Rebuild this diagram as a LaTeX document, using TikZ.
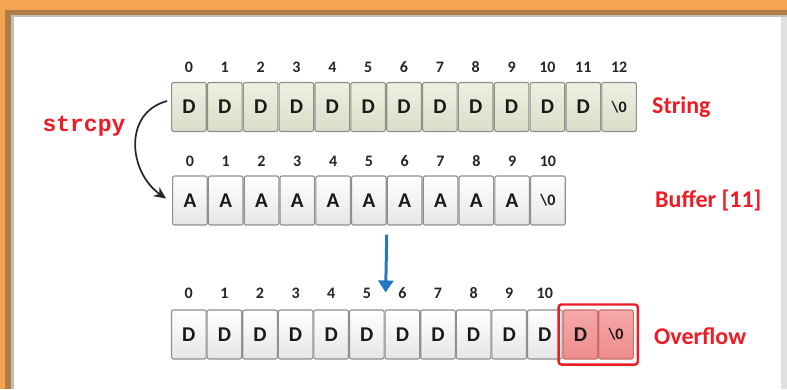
\documentclass[tikz,border=0pt]{standalone}
\usepackage{fontspec}
\setmainfont{Carlito}
\newfontfamily\monof{Liberation Mono}
\usetikzlibrary{arrows.meta,fit}
\definecolor{bgorange}{HTML}{F4A552}
\definecolor{bgbrown}{HTML}{B27C45}
\definecolor{txtred}{HTML}{EE1C25}
\definecolor{arrblue}{HTML}{2378C0}
\definecolor{celledge}{HTML}{8F908A}
\definecolor{aTop}{HTML}{EEF0E2}
\definecolor{aBot}{HTML}{DADDC8}
\definecolor{cTop}{HTML}{F6A8A8}
\definecolor{cBot}{HTML}{EE8C8C}
\definecolor{cEdge}{HTML}{C86E6E}
\tikzset{
  cellbase/.style={rectangle, rounded corners=2pt, minimum width=34.6pt, minimum height=49pt, inner sep=0pt, draw=celledge, line width=1.1pt, font=\fontsize{21}{21}\selectfont\bfseries, text=black!90},
  cellA/.style={cellbase, top color=aTop, bottom color=aBot},
  cellB/.style={cellbase, top color=white, bottom color=black!10},
  cellC/.style={cellbase, top color=cTop, bottom color=cBot, draw=cEdge},
  idx/.style={font=\fontsize{16}{16}\selectfont\bfseries, text=black!85, inner sep=0pt},
  lbl/.style={font=\fontsize{24}{24}\selectfont\bfseries, text=txtred, anchor=west, inner sep=0pt},
  nul/.style={font=\fontsize{16}{16}\selectfont\bfseries}
}
\begin{document}
\begin{tikzpicture}[x=1pt,y=-1pt]
\useasboundingbox (0,0) rectangle (787,389);
% background frame
\fill[bgorange] (0,0) rectangle (787,389);
\fill[bgbrown] (5,10) rectangle (787,389);
\fill[black!25] (11,15) rectangle (787,389);
\fill[white] (14,17) rectangle (781,389);
\fill[black!12] (781,17) rectangle (787,389);
% row 1 (String)
\foreach \i in {0,...,11}
  \node[cellA] (r1c\i) at ({171+35.85*(\i+0.5)},107) {D};
\node[cellA, nul] (r1c12) at ({171+35.85*12.5},107) {\textbackslash0};
\foreach \i in {0,...,12}
  \node[idx] (i1c\i) at ({171+35.85*(\i+0.5)},67) {\i};
% row 2 (Buffer)
\foreach \i in {0,...,9}
  \node[cellB] (r2c\i) at ({172+35.8*(\i+0.5)},200.5) {A};
\node[cellB, nul] (r2c10) at ({172+35.8*10.5},200.5) {\textbackslash0};
\foreach \i in {0,...,10}
  \node[idx] (i2c\i) at ({172+35.8*(\i+0.5)},161) {\i};
% row 3 (Overflow)
\foreach \i in {0,...,10}
  \node[cellB] (r3c\i) at ({171+35.6*(\i+0.5)},334.5) {D};
\node[cellC] (r3c11) at ({171+35.6*11.5},334.5) {D};
\node[cellC, nul] (r3c12) at ({171+35.6*12.5},334.5) {\textbackslash0};
\foreach \i in {0,...,10}
  \node[idx] (i3c\i) at ({171+35.6*(\i+0.5)},293) {\i};
% overflow box
\node[fit=(r3c11)(r3c12), draw=txtred, line width=2.4pt, rounded corners=3pt, inner xsep=4pt, inner ysep=5pt] (ovbox) {};
% labels
\node[lbl] (lstr) at (652,107) {String};
\node[lbl] (lbuf) at (655,201) {Buffer [11]};
\node[lbl] (lovf) at (654,336) {Overflow};
\node[font=\monof\fontsize{23}{23}\selectfont\bfseries, text=txtred, inner sep=0pt] (lcpy) at (84,126) {strcpy};
% strcpy arrow
\draw[line width=1.7pt, black!85, -{Stealth[length=12pt,width=11pt]}]
  ([xshift=-4pt,yshift=6pt]r1c0.west) to[out=195, in=145, looseness=1.2] ([xshift=-6pt,yshift=2pt]r2c0.west);
% blue arrow
\coordinate (bstart) at ([yshift=-9pt]r2c5.south east);
\coordinate (bend) at ([xshift=1pt,yshift=17pt]r3c5.north east);
\draw[line width=3pt, arrblue, -{Triangle[length=12pt,width=15pt]}] (bstart) -- (bend);
\end{tikzpicture}
\end{document}
